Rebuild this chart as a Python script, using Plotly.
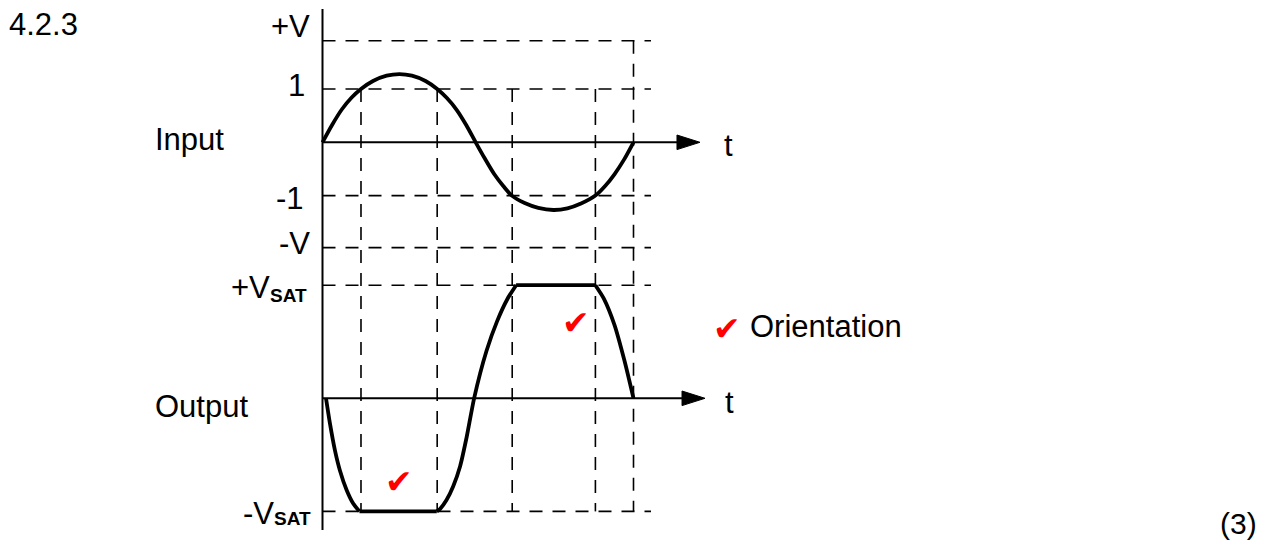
import plotly.graph_objects as go

W, H = 1271, 540

# input sine wave (t: one period = 8 units, v in volts)
input_t = [0, 0.25, 0.5, 0.75, 0.99, 1.3, 1.65, 1.98, 2.3, 2.65, 2.95, 3.2, 3.45, 3.7, 3.94,
           4.18, 4.42, 4.65, 4.87, 5.2, 5.55, 5.94, 6.3, 6.65, 7.02, 7.27, 7.51, 7.76, 8.0]
input_v = [0, 0.33, 0.62, 0.84, 1.0, 1.15, 1.25, 1.28, 1.25, 1.15, 1.0, 0.83, 0.61, 0.32, 0,
           -0.31, -0.6, -0.82, -1.0, -1.14, -1.23, -1.27, -1.24, -1.15, -1.0, -0.82, -0.6, -0.32, 0]

# clipped output (units of Vsat)
output_t = [0.09, 0.19, 0.32, 0.45, 0.62, 0.79, 0.95, 2.94, 3.02, 3.19, 3.36, 3.54, 3.71, 3.90,
            4.22, 4.49, 4.76, 4.98, 7.02, 7.24, 7.51, 7.77, 8.0]
output_v = [0, -0.22, -0.46, -0.64, -0.81, -0.93, -1.0, -1.0, -0.98, -0.90, -0.78, -0.60, -0.34, 0,
            0.42, 0.68, 0.88, 1.0, 1.0, 0.88, 0.65, 0.33, 0]
# index ranges of the curved parts; the gaps between them are the flat (clipped) parts
output_curves = [(0, 6), (7, 17), (18, 22)]

input_levels = [1.906, 1.0, -1.0, -1.977]
input_level_labels = ['+V', '1', '-1', '-V']
output_levels = [1.0, -1.0]
output_level_labels = ['+V', '-V']

mark_times = [0.99, 2.95, 4.88, 7.02, 8.0]
mark_tops = [1.0, 1.0, 1.0, 1.0, 1.906]

# layout geometry (pixels in the reference picture)
PAGE_PAD = 8  # the html body margin shifts the figure by this much
FIG_W, FIG_H = W - PAGE_PAD, H - PAGE_PAD
X0_PX, PX_PER_T = 322.5 - PAGE_PAD, 38.875
IN0_PX, PX_PER_V = 142.3 - PAGE_PAD, 53.3
OUT0_PX, PX_PER_SAT = 398.3 - PAGE_PAD, 113.1
GRID_END_T = 8.45
AXIS_TOP_V, AXIS_BOTTOM_SAT = 2.5, -1.165
T_TIP_IN, T_TIP_OUT = 9.71, 9.84
HEAD_LEN_PX, HEAD_HALF_PX = 23, 7.3

FONT = 'Liberation Sans, Arial, sans-serif'
DASH = '13px,10px'
GRID_LINE = dict(color='black', width=1.6, dash=DASH)
CURVE_W = 3.8


def out_to_in(v):
    # output-axis value expressed on the input y axis
    return (IN0_PX - (OUT0_PX - v * PX_PER_SAT)) / PX_PER_V


fig = go.Figure()

shapes = []
# horizontal dashed guide lines
for lv in input_levels:
    shapes.append(dict(type='line', xref='x', yref='y', x0=0, x1=GRID_END_T, y0=lv, y1=lv,
                       line=GRID_LINE, layer='below'))
for lv in output_levels:
    shapes.append(dict(type='line', xref='x', yref='y2', x0=0, x1=GRID_END_T, y0=lv, y1=lv,
                       line=GRID_LINE, layer='below'))
# vertical dashed guide lines
for t, top in zip(mark_times, mark_tops):
    shapes.append(dict(type='line', xref='x', yref='y', x0=t, x1=t, y0=top, y1=out_to_in(-1.0),
                       line=GRID_LINE, layer='below'))
# vertical axis
shapes.append(dict(type='line', xref='x', yref='y', x0=0, x1=0, y0=AXIS_TOP_V,
                   y1=out_to_in(AXIS_BOTTOM_SAT), line=dict(color='black', width=2)))
# time axes
head_t = HEAD_LEN_PX / PX_PER_T
shapes.append(dict(type='line', xref='x', yref='y', x0=0, x1=T_TIP_IN - head_t, y0=0, y1=0,
                   line=dict(color='black', width=2)))
shapes.append(dict(type='line', xref='x', yref='y2', x0=0, x1=T_TIP_OUT - head_t, y0=0, y1=0,
                   line=dict(color='black', width=2)))

# arrow heads
for tip, half, ax in [(T_TIP_IN, HEAD_HALF_PX / PX_PER_V, 'y'),
                      (T_TIP_OUT, HEAD_HALF_PX / PX_PER_SAT, 'y2')]:
    fig.add_trace(go.Scatter(x=[tip - head_t, tip, tip - head_t, tip - head_t],
                             y=[half, 0, -half, half], yaxis=ax, mode='lines',
                             fill='toself', fillcolor='black',
                             line=dict(color='black', width=1), hoverinfo='skip'))

fig.add_trace(go.Scatter(x=input_t, y=input_v, mode='lines', yaxis='y',
                         line=dict(color='black', width=CURVE_W, shape='spline', smoothing=0.8)))

# output: smooth curved parts, straight clipped parts
for i, (a, b) in enumerate(output_curves):
    fig.add_trace(go.Scatter(x=output_t[a:b + 1], y=output_v[a:b + 1], mode='lines', yaxis='y2',
                             line=dict(color='black', width=CURVE_W, shape='spline',
                                       smoothing=0.6)))
    if i + 1 < len(output_curves):
        c = output_curves[i + 1][0]
        fig.add_trace(go.Scatter(x=output_t[b:c + 1], y=output_v[b:c + 1], mode='lines',
                                 yaxis='y2', line=dict(color='black', width=CURVE_W)))


def label(text, x, y, anchor='left', size=31, color='black', family=FONT):
    return dict(text=text, x=(x - PAGE_PAD) / FIG_W, y=1 - (y - PAGE_PAD) / FIG_H,
                xref='paper', yref='paper', xanchor=anchor, yanchor='middle', showarrow=False,
                borderpad=0, borderwidth=0, font=dict(family=family, size=size, color=color))


annotations = [
    label('4.2.3', 9, 24),
    label(input_level_labels[0], 310, 27, 'right'),
    label(input_level_labels[1], 305, 86, 'right'),
    label(input_level_labels[2], 304, 198, 'right'),
    label(input_level_labels[3], 310, 244, 'right'),
    label('Input', 155, 139.5),
    label('t', 728, 145, 'center'),
    label(output_level_labels[0], 270, 287.5, 'right'),
    label('<b>SAT</b>', 270, 295.5, size=19),
    label(output_level_labels[1], 274, 513.3, 'right'),
    label('<b>SAT</b>', 274, 518.3, size=19),
    label('Output', 155, 406),
    label('t', 729, 402.5, 'center'),
    label('Orientation', 750, 326.7),
    label('(3)', 1220, 523.5, size=30),
]
for cx, cy in [(398.5, 481), (576, 322), (726.7, 328.3)]:
    annotations.append(label('\u2714', cx, cy, 'center', size=33, color='red',
                             family='DejaVu Sans'))

fig.update_layout(
    width=FIG_W, height=FIG_H,
    margin=dict(l=0, r=0, t=0, b=0),
    paper_bgcolor='white', plot_bgcolor='white',
    showlegend=False,
    xaxis=dict(range=[-X0_PX / PX_PER_T, (FIG_W - X0_PX) / PX_PER_T], visible=False,
               fixedrange=True),
    yaxis=dict(range=[-(FIG_H - IN0_PX) / PX_PER_V, IN0_PX / PX_PER_V], visible=False,
               fixedrange=True),
    yaxis2=dict(range=[-(FIG_H - OUT0_PX) / PX_PER_SAT, OUT0_PX / PX_PER_SAT], visible=False,
                overlaying='y', fixedrange=True),
    shapes=shapes,
    annotations=annotations,
)

fig.write_html('out.html')
